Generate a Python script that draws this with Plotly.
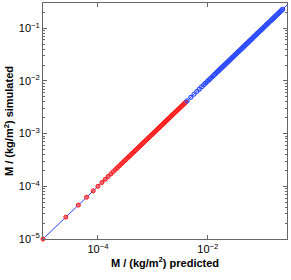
import plotly.graph_objects as go

# Red series: predicted M (kg/m^2); simulated values lie on the 1:1 line
red_pred = [1.0e-5, 2.6e-5, 4.4e-5, 6.2e-5, 8.2e-5, 1.0e-4, 1.18e-4, 1.36e-4, 1.54e-4,
            1.72e-4, 1.9e-4, 2.08e-4, 2.26e-4, 2.44e-4, 2.62e-4, 2.8e-4, 3.0e-4, 3.2e-4,
            3.4e-4, 3.6e-4, 3.8e-4, 4.0e-4, 4.25e-4, 4.5e-4, 4.75e-4, 5.0e-4, 5.3e-4,
            5.6e-4, 5.9e-4, 6.2e-4, 6.5e-4, 6.8e-4, 7.2e-4, 7.6e-4, 8.0e-4, 8.4e-4,
            8.8e-4, 9.3e-4, 9.8e-4, 1.03e-3, 1.08e-3, 1.13e-3, 1.19e-3, 1.25e-3, 1.31e-3,
            1.37e-3, 1.44e-3, 1.51e-3, 1.58e-3, 1.66e-3, 1.74e-3, 1.82e-3, 1.91e-3, 2.0e-3,
            2.1e-3, 2.2e-3, 2.3e-3, 2.41e-3, 2.52e-3, 2.64e-3, 2.76e-3, 2.89e-3, 3.02e-3,
            3.16e-3, 3.31e-3, 3.46e-3, 3.62e-3, 3.78e-3, 3.95e-3]
red_sim = list(red_pred)

# Blue series: predicted M (kg/m^2); simulated values lie on the 1:1 line
blue_pred = [4.2e-3, 4.9e-3, 5.6e-3, 6.3e-3, 7.0e-3, 7.7e-3, 8.4e-3, 9.1e-3, 9.8e-3,
             1.05e-2, 1.12e-2, 1.19e-2, 1.26e-2, 1.33e-2, 1.4e-2, 1.47e-2, 1.54e-2,
             1.61e-2, 1.68e-2, 1.75e-2, 1.83e-2, 1.91e-2, 2.0e-2, 2.09e-2, 2.18e-2,
             2.28e-2, 2.38e-2, 2.49e-2, 2.6e-2, 2.72e-2, 2.84e-2, 2.97e-2, 3.1e-2,
             3.24e-2, 3.38e-2, 3.53e-2, 3.69e-2, 3.86e-2, 4.03e-2, 4.21e-2, 4.4e-2,
             4.6e-2, 4.8e-2, 5.0e-2, 5.2e-2, 5.4e-2, 5.65e-2, 5.9e-2, 6.15e-2, 6.4e-2,
             6.7e-2, 7.0e-2, 7.3e-2, 7.6e-2, 7.9e-2, 8.25e-2, 8.6e-2, 9.0e-2, 9.4e-2,
             9.8e-2, 0.102, 0.107, 0.112, 0.117, 0.122, 0.127, 0.133, 0.139, 0.145,
             0.151, 0.158, 0.165, 0.172, 0.18, 0.188, 0.196, 0.205, 0.214, 0.223, 0.23]
blue_sim = list(blue_pred)

# 1:1 line endpoints
line_x = [1e-5, 0.29]
line_y = [1e-5, 0.29]

x_tickvals = [1e-4, 1e-2]
x_ticktext = ["10<sup>−4</sup>", "10<sup>−2</sup>"]
y_tickvals = [1e-5, 1e-4, 1e-3, 1e-2, 1e-1]
y_ticktext = ["10<sup>−5</sup>", "10<sup>−4</sup>", "10<sup>−3</sup>",
              "10<sup>−2</sup>", "10<sup>−1</sup>"]
y_minor = [m * 10.0 ** e for e in range(-5, 0) for m in range(2, 10)]

fig = go.Figure()
fig.add_trace(go.Scatter(x=line_x, y=line_y, mode="lines",
                         line=dict(color="#2b3cff", width=1), showlegend=False))
fig.add_trace(go.Scatter(x=red_pred, y=red_sim, mode="markers", cliponaxis=False,
                         marker=dict(symbol="circle", size=4,
                                     color="rgba(255,80,80,0.7)",
                                     line=dict(color="#ff1010", width=1)),
                         showlegend=False))
fig.add_trace(go.Scatter(x=blue_pred, y=blue_sim, mode="markers",
                         marker=dict(symbol="circle-open", size=4, color="#2f4dff",
                                     line=dict(width=1.2)),
                         showlegend=False))

font = dict(family="Liberation Sans, Arial", size=11, color="black")
axis_common = dict(type="log", showgrid=False, zeroline=False, showline=True,
                   linecolor="#666666", linewidth=1, mirror="allticks",
                   ticks="inside", ticklen=4, tickcolor="#666666",
                   automargin=False, tickfont=font)

fig.update_xaxes(**axis_common, range=[-5, -0.56], tickvals=x_tickvals, ticktext=x_ticktext,
                 title=dict(text="<b>M / (kg/m<sup>2</sup>) predicted</b>", standoff=3, font=font))
fig.update_yaxes(**axis_common, range=[-5, -0.52], tickvals=y_tickvals, ticktext=y_ticktext,
                 minor=dict(tickvals=y_minor, ticks="inside", ticklen=2, tickcolor="#666666"),
                 title=dict(text="<b>M / (kg/m<sup>2</sup>) simulated</b>", standoff=2, font=font))

fig.update_layout(width=291, height=280, margin=dict(l=43, r=4, t=3, b=41),
                  plot_bgcolor="white", paper_bgcolor="white")

fig.write_html("out.html", config={"displayModeBar": False},
               post_script="document.body.style.margin='0';")
